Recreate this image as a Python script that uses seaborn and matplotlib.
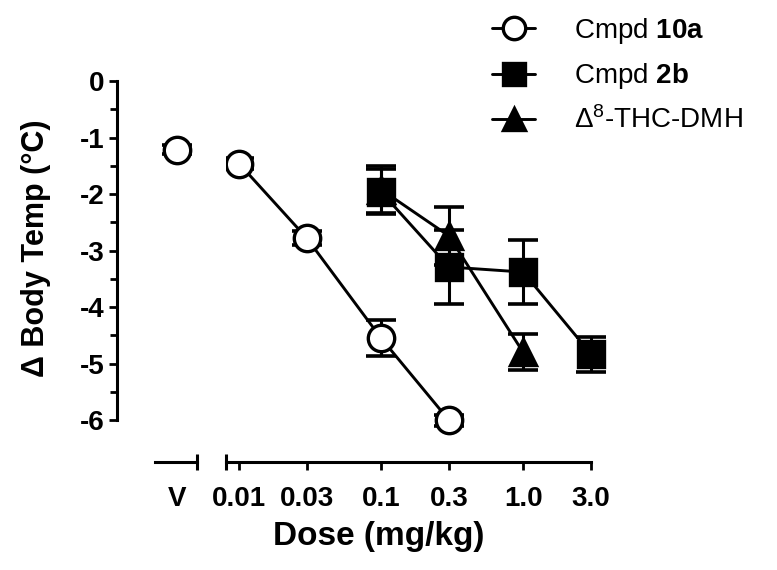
import numpy as np
import pandas as pd
import seaborn as sns
import matplotlib.pyplot as plt
from matplotlib.ticker import FixedLocator, NullFormatter

# Cmpd 10a (open circles), vehicle shown separately
veh_10a = [-1.22]
veh_err = [0.08]
dose_10a = [0.01, 0.03, 0.1, 0.3]
temp_10a = [-1.46, -2.78, -4.55, -6.0]
err_10a = [0.1, 0.12, 0.32, 0.1]

# Cmpd 2b (filled squares)
dose_2b = [0.1, 0.3, 1.0, 3.0]
temp_2b = [-1.96, -3.29, -3.38, -4.83]
err_2b = [0.4, 0.66, 0.56, 0.31]

# delta8-THC-DMH (filled triangles)
dose_thc = [0.1, 0.3, 1.0]
temp_thc = [-1.92, -2.74, -4.8]
err_thc = [0.42, 0.51, 0.32]

dose_ticks = [0.01, 0.03, 0.1, 0.3, 1.0, 3.0]
dose_labels = ["0.01", "0.03", "0.1", "0.3", "1.0", "3.0"]
temp_ticks = [0, -1, -2, -3, -4, -5, -6]

sns.set_theme(style="ticks")
plt.rcParams['font.family'] = ['Liberation Sans', 'DejaVu Sans']
plt.rcParams['mathtext.fontset'] = 'custom'
plt.rcParams['mathtext.rm'] = 'Liberation Sans'
plt.rcParams['mathtext.bf'] = 'Liberation Sans:bold'
plt.rcParams['mathtext.it'] = 'Liberation Sans:italic'
plt.rcParams['axes.unicode_minus'] = False
plt.rcParams['text.color'] = 'black'
plt.rcParams['axes.labelcolor'] = 'black'
plt.rcParams['xtick.color'] = 'black'
plt.rcParams['ytick.color'] = 'black'

W, H = 777, 570
fig = plt.figure(figsize=(7.77, 5.70), dpi=100)
fig.patch.set_facecolor('white')


def px_axes(x0, x1, y0, y1):
    return fig.add_axes([x0 / W, 1 - y1 / H, (x1 - x0) / W, (y1 - y0) / H])


ax_v = px_axes(117, 197, 81, 462)
ax_d = px_axes(226, 620, 81, 462)

ebar = dict(fmt='none', ecolor='black', elinewidth=2.2, capsize=11, capthick=2.6, zorder=2)
mk = dict(color='black', linewidth=2.1, markersize=19, markeredgewidth=2.4, zorder=3)

# vehicle
ax_v.errorbar([0], veh_10a, yerr=veh_err, **ebar)
sns.lineplot(x=[0], y=veh_10a, ax=ax_v, marker='o', markerfacecolor='white',
             markeredgecolor='black', **mk)

# dose-response
ax_d.errorbar(dose_thc, temp_thc, yerr=err_thc, **ebar)
sns.lineplot(x=dose_thc, y=temp_thc, ax=ax_d, marker='^', markerfacecolor='black',
             markeredgecolor='black', **mk)
h_thc = ax_d.lines[-1]

ax_d.errorbar(dose_2b, temp_2b, yerr=err_2b, **ebar)
sns.lineplot(x=dose_2b, y=temp_2b, ax=ax_d, marker='s', markerfacecolor='black',
             markeredgecolor='black', **mk)
h_2b = ax_d.lines[-1]

ax_d.errorbar(dose_10a, temp_10a, yerr=err_10a, **ebar)
sns.lineplot(x=dose_10a, y=temp_10a, ax=ax_d, marker='o', markerfacecolor='white',
             markeredgecolor='black', **mk)
h_10a = ax_d.lines[-1]

for ax in (ax_v, ax_d):
    ax.set_ylim(-6.74, 0)
    ax.set_facecolor('none')
    ax.grid(False)
    ax.set_xlabel('')
    ax.set_ylabel('')
    ax.spines['top'].set_visible(False)
    ax.spines['right'].set_visible(False)
    for s in ax.spines.values():
        s.set_linewidth(2.2)
        s.set_color('black')

# vehicle axis (carries the y axis)
ax_v.set_xlim(-1.5, 0.5)
ax_v.spines['left'].set_bounds(-6, 0)
ax_v.spines['bottom'].set_bounds(-0.55, 0.5)
ax_v.set_yticks(temp_ticks)
ax_v.set_yticklabels([str(t) for t in temp_ticks])
ax_v.yaxis.set_minor_locator(FixedLocator(np.arange(-5.5, 0, 1.0)))
ax_v.tick_params(axis='y', which='major', length=6, width=2, pad=3, labelsize=20)
ax_v.tick_params(axis='y', which='minor', length=5, width=2, left=True)
ax_v.set_xticks([0])
ax_v.set_xticklabels(['V'])
ax_v.xaxis.set_minor_locator(FixedLocator([0.5]))
ax_v.tick_params(axis='x', which='major', length=0, pad=17, labelsize=20)
ax_v.tick_params(axis='x', which='minor', length=12, width=2.2, direction='inout',
                 bottom=True)

# dose axis
ax_d.set_xscale('log')
ax_d.set_xlim(0.0081, 4.8)
ax_d.spines['left'].set_visible(False)
ax_d.spines['bottom'].set_bounds(0.0081, 3.0)
ax_d.set_yticks([])
ax_d.set_xticks(dose_ticks)
ax_d.set_xticklabels(dose_labels)
ax_d.xaxis.set_minor_locator(FixedLocator([0.0081]))
ax_d.xaxis.set_minor_formatter(NullFormatter())
ax_d.tick_params(axis='x', which='major', length=6, width=2, pad=11,
                 labelsize=20, bottom=True)
ax_d.tick_params(axis='x', which='minor', length=12, width=2.2, direction='inout',
                 bottom=True)

for ax in (ax_v, ax_d):
    for lab in ax.get_xticklabels() + ax.get_yticklabels():
        lab.set_fontweight('bold')
        lab.set_color('black')

fig.text(36 / W, 1 - 248 / H, "\u0394 Body Temp (\u00b0C)", rotation=90,
         ha='center', va='center', fontsize=22, fontweight='bold')
fig.text(379 / W, 1 - 536 / H, "Dose (mg/kg)", ha='center', va='center',
         fontsize=24, fontweight='bold')

fig.legend([h_10a, h_2b, h_thc],
           [r"Cmpd $\mathbf{10a}$", r"Cmpd $\mathbf{2b}$", r"$\Delta^{8}$-THC-DMH"],
           loc='upper left', bbox_to_anchor=(492 / W, 1 - 16 / H), frameon=False,
           fontsize=20, handlelength=1.55, handletextpad=1.4, labelspacing=0.55,
           borderaxespad=0, borderpad=0, markerscale=0.85)

fig.savefig('out.png', dpi=100, facecolor='white')
